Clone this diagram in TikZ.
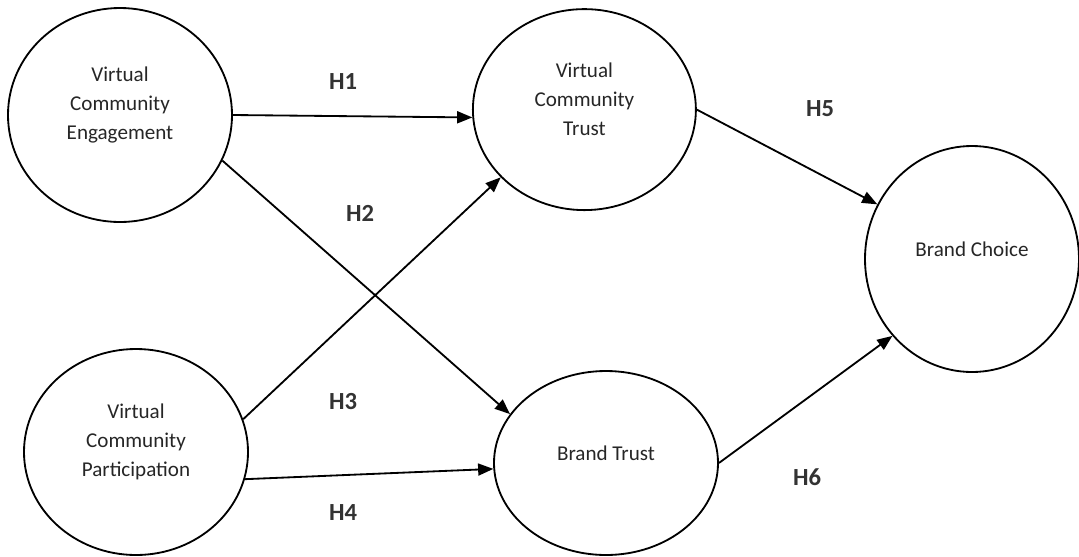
\documentclass[tikz,border=0pt]{standalone}
\usepackage{fontspec}
\setmainfont{Carlito}
\usetikzlibrary{shapes.geometric}
\usetikzlibrary{arrows.meta}

\tikzset{
  construct/.style={draw, ellipse, line width=1.3pt, inner sep=0pt},
  conname/.style={align=center, font=\fontsize{15}{20.6}\selectfont, text=black!85, yshift=0.25cm},
  hyp/.style={-{Triangle[length=0.38cm,width=0.3cm]}, line width=1.3pt},
  hlabel/.style={font=\fontsize{17.5}{22}\selectfont\bfseries, text=black!80}
}

\begin{document}
\begin{tikzpicture}
        \useasboundingbox (0,0) rectangle (26.975,-13.9);

        % Constructs
        \node[construct, minimum width=5.6cm, minimum height=5.35cm,
              label={[conname]center:Virtual\\Community\\Engagement}] (vce) at (3.0,-2.875) {};
        \node[construct, minimum width=5.575cm, minimum height=5.025cm,
              label={[conname]center:Virtual\\Community\\Trust}] (vct) at (14.61,-2.74) {};
        \node[construct, minimum width=5.35cm, minimum height=5.65cm,
              label={[conname]center:Brand Choice}] (bc) at (24.3,-6.475) {};
        \node[construct, minimum width=5.6cm, minimum height=5.15cm,
              label={[conname]center:Virtual\\Community\\Participation}] (vcp) at (3.4,-11.3) {};
        \node[construct, minimum width=5.6cm, minimum height=4.6cm,
              label={[conname]center:Brand Trust}] (bt) at (15.15,-11.575) {};

        % Hypotheses
        \draw[hyp] (vce.east) -- (vct.184);
        \draw[hyp] (vce.-24) -- (bt.153);
        \draw[hyp] (vcp.17) -- (vct.219);
        \draw[hyp] (vcp.-14) -- (bt.183);
        \draw[hyp] (vct.east) -- (bc.150);
        \draw[hyp] (bt.east) -- (bc.224);

        \node[hlabel] (h1) at (8.575,-2.05) {H1};
        \node[hlabel] (h2) at (9.0,-5.325) {H2};
        \node[hlabel] (h3) at (8.575,-10.05) {H3};
        \node[hlabel] (h4) at (8.575,-12.825) {H4};
        \node[hlabel] (h5) at (20.5,-2.725) {H5};
        \node[hlabel] (h6) at (20.175,-11.925) {H6};
    \end{tikzpicture}
\end{document}
